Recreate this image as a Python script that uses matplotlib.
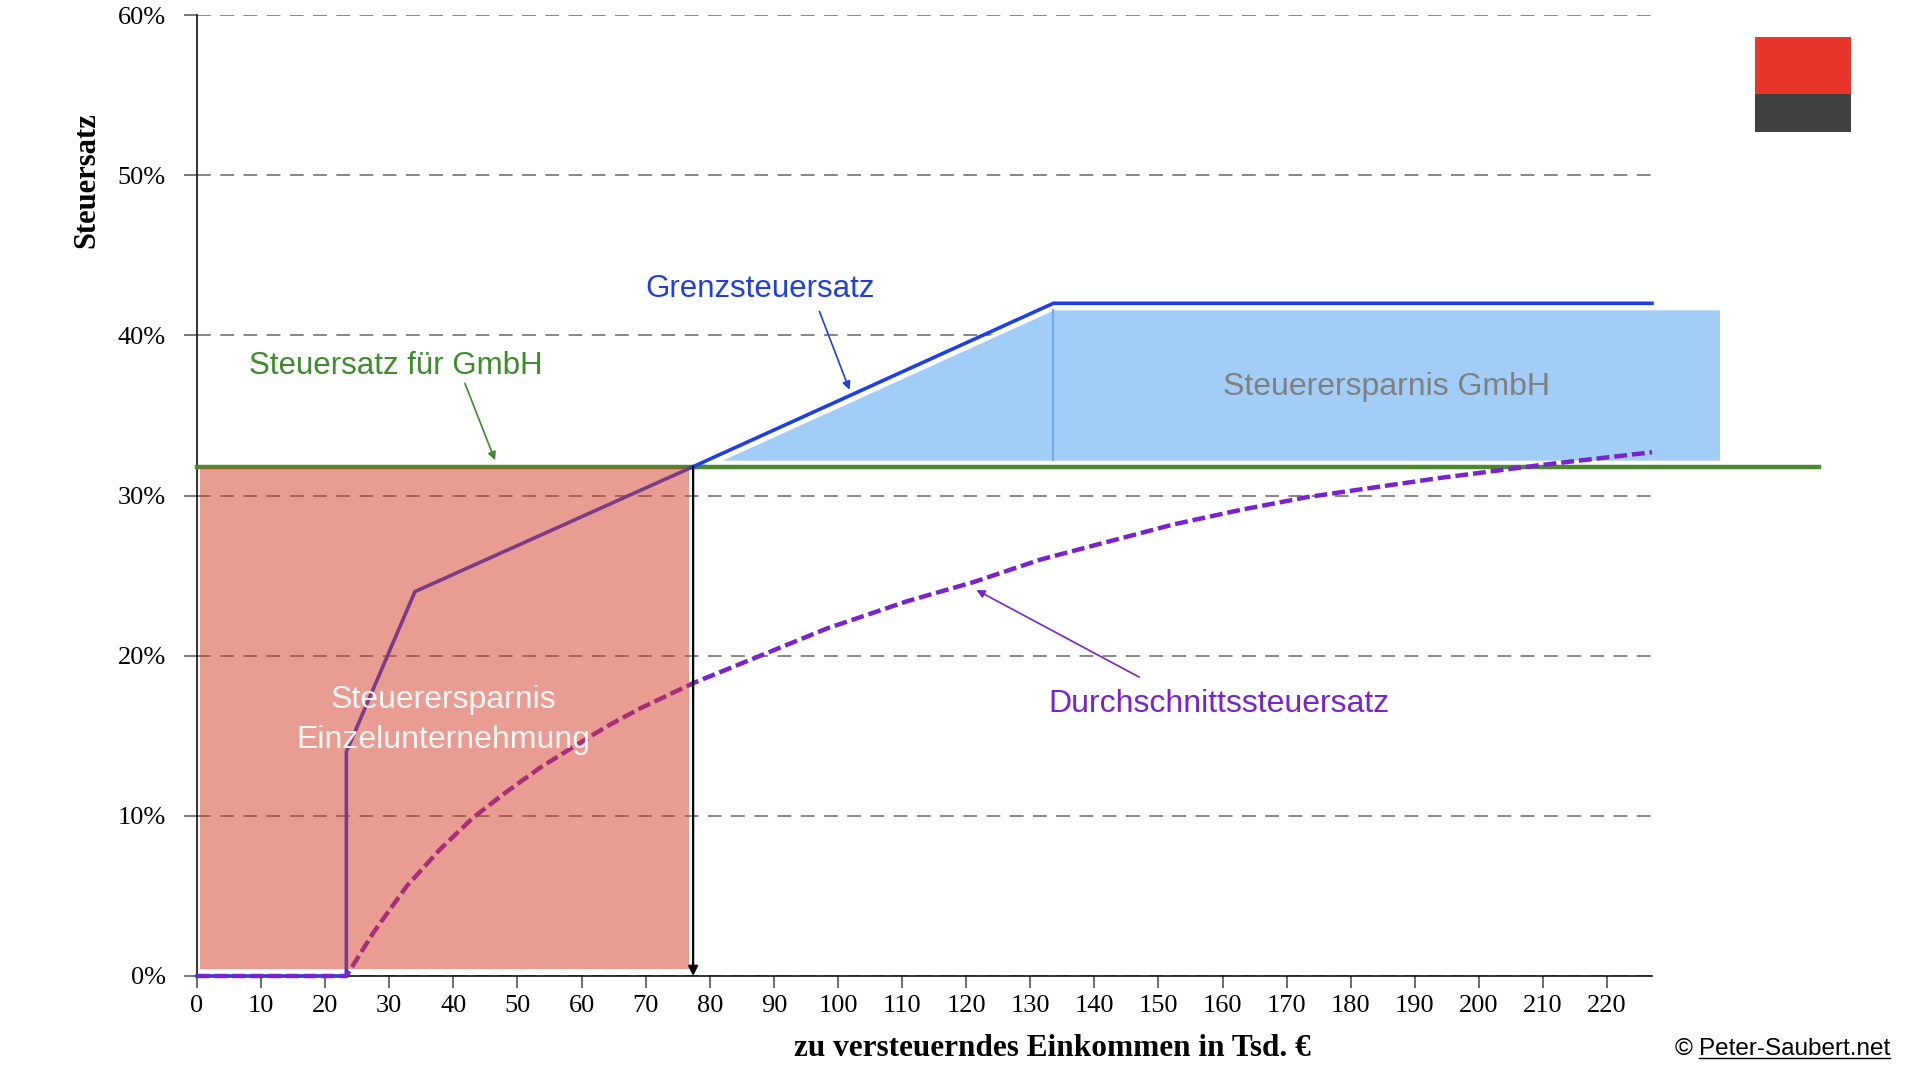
import matplotlib
matplotlib.use('Agg')
import matplotlib.pyplot as plt
from matplotlib.patches import Rectangle
from matplotlib.lines import Line2D

# Grenzsteuersatz Einzelunternehmen (Einkommen in Tsd. EUR, Satz in %)
marginal_x = [0, 23.3, 23.3, 34.0, 77.4, 133.6, 227.0]
marginal_y = [0, 0, 14.0, 24.0, 31.8, 42.0, 42.0]

# Durchschnittssteuersatz
avg_x = [0, 23.3, 27.5, 32.7, 37.9, 43.1, 48.3, 53.5, 58.7, 64.0, 69.1,
         77.5, 87.9, 98.3, 110.8, 121.2, 131.6, 142.0, 152.4, 162.8, 173.2,
         194.0, 209.6, 227.0]
avg_y = [0, 0, 2.7, 5.6, 7.9, 9.9, 11.5, 13.0, 14.3, 15.6, 16.7,
         18.3, 20.0, 21.7, 23.4, 24.6, 26.0, 27.1, 28.2, 29.1, 29.9,
         31.1, 31.9, 32.7]

# Steuersatz GmbH und Schnittpunkt
gmbh_rate = 31.8
gmbh_x = [0, 253]
breakeven = 77.4

# Flaechen
einzel_x = [0.4, 76.7]
einzel_y = [0.45, 31.7]
gmbh_save_x = [77.4, 133.6, 237.8]
gmbh_save_top = [31.8, 42.0, 42.0]
top_rate_start = 133.6

x_ticks = list(range(0, 230, 10))
y_ticks = [0, 10, 20, 30, 40, 50, 60]
y_tick_labels = [f'{v}%' for v in y_ticks]

BLUE = '#1f3fe6'
GREEN = '#4a8a2c'
PURPLE = '#7a22cc'
SERIF = ['Liberation Serif', 'DejaVu Serif']
SANS = ['Liberation Sans', 'DejaVu Sans']

fig = plt.figure(figsize=(19.2, 10.8), dpi=100)
ax = fig.add_axes([197 / 1920, 1 - 976 / 1080, 1455 / 1920, 961 / 1080])
ax.set_xlim(0, 227)
ax.set_ylim(0, 60)

for s in ['top', 'right']:
    ax.spines[s].set_visible(False)
for s in ['left', 'bottom']:
    ax.spines[s].set_linewidth(1.2)
    ax.spines[s].set_color('#111111')

ax.set_yticks(y_ticks)
ax.set_yticklabels(y_tick_labels, family=SERIF, fontsize=19)
ax.set_xticks(x_ticks)
ax.set_xticklabels([str(t) for t in x_ticks], family=SERIF, fontsize=19)
ax.tick_params(axis='y', length=9.5, width=1.1, color='#555555', pad=13)
ax.tick_params(axis='x', length=8.5, width=1.1, color='#444444', pad=5)

ax.yaxis.grid(True, color='#666666', linewidth=1.1, linestyle=(0, (9, 6.2)))
ax.set_axisbelow(True)

# blaue Ersparnisflaeche GmbH
ax.fill_between(gmbh_save_x, [gmbh_rate + 0.3] * 3,
                [t - 0.3 for t in gmbh_save_top],
                facecolor='#a2cdf6', edgecolor='white', linewidth=2.5,
                zorder=2, clip_on=False)
ax.plot([top_rate_start, top_rate_start], [gmbh_rate + 0.4, 41.6],
        color='#6eaef0', lw=1.5, zorder=2.5, clip_on=False)

# Linien
ax.plot(gmbh_x, [gmbh_rate, gmbh_rate], color=GREEN, lw=3.2,
        zorder=3, clip_on=False)
ax.plot(marginal_x, marginal_y, color=BLUE, lw=2.6, zorder=4,
        solid_joinstyle='miter', clip_on=False)
ax.plot(avg_x, avg_y, color=PURPLE, lw=3.2, zorder=4.5,
        dashes=(2.9, 1.1), clip_on=False)

# halbtransparente rote Flaeche Einzelunternehmen
ax.add_patch(Rectangle((einzel_x[0], einzel_y[0]),
                       einzel_x[1] - einzel_x[0], einzel_y[1] - einzel_y[0],
                       facecolor='#d53a26', alpha=0.5, edgecolor='none',
                       zorder=5))

ax.annotate('', xy=(breakeven, 0), xytext=(breakeven, gmbh_rate),
            arrowprops=dict(arrowstyle='-|>', color='black', lw=1.6,
                            mutation_scale=14, shrinkA=0, shrinkB=0),
            zorder=6)

# Beschriftungen
ax.text(87.9, 42.9, 'Grenzsteuersatz', color=BLUE, family=SANS,
        fontsize=22.5, ha='center', va='center', zorder=7)
ax.annotate('', xy=(101.8, 36.6), xytext=(97.1, 41.5),
            arrowprops=dict(arrowstyle='-|>', color=BLUE, lw=1.2,
                            mutation_scale=12, shrinkA=0, shrinkB=0),
            zorder=7)

ax.text(31.0, 38.1, 'Steuersatz für GmbH', color='#3d8b2b', family=SANS,
        fontsize=22.5, ha='center', va='center', zorder=7)
ax.annotate('', xy=(46.5, 32.2), xytext=(41.8, 37.0),
            arrowprops=dict(arrowstyle='-|>', color='#3d8b2b', lw=1.2,
                            mutation_scale=12, shrinkA=0, shrinkB=0),
            zorder=7)

ax.text(185.6, 36.8, 'Steuerersparnis GmbH', color='#808080', family=SANS,
        fontsize=23, ha='center', va='center', zorder=7, clip_on=False)

ax.text(38.4, 16.0, 'Steuerersparnis\nEinzelunternehmung', color='white',
        family=SANS, fontsize=23, ha='center', va='center',
        linespacing=1.45, alpha=0.92, zorder=7)

ax.text(159.4, 17.0, 'Durchschnittssteuersatz', color=PURPLE, family=SANS,
        fontsize=23, ha='center', va='center', zorder=7)
ax.annotate('', xy=(121.6, 24.1), xytext=(147.0, 18.66),
            arrowprops=dict(arrowstyle='-|>', color=PURPLE, lw=1.2,
                            mutation_scale=12, shrinkA=0, shrinkB=0),
            zorder=7)

ax.set_xlabel('zu versteuerndes Einkommen in Tsd. €', family=SERIF,
              fontsize=22.5, fontweight='bold')
ax.xaxis.set_label_coords(0.588, -0.060)
ax.set_ylabel('Steuersatz', family=SERIF, fontsize=22, fontweight='bold')
ax.yaxis.set_label_coords(-0.066, 0.828)

# Logo
fig.patches.append(Rectangle((1755 / 1920, 1 - 94 / 1080), 96 / 1920,
                             57 / 1080, transform=fig.transFigure,
                             facecolor='#e8352a', edgecolor='none'))
fig.patches.append(Rectangle((1755 / 1920, 1 - 132 / 1080), 96 / 1920,
                             38 / 1080, transform=fig.transFigure,
                             facecolor='#404040', edgecolor='none'))

# Copyright mit unterstrichenem Link
fig.text(1675 / 1920, 1 - 1049 / 1080, '©', family=SANS, fontsize=17.5,
         ha='left', va='center')
link = fig.text(1699 / 1920, 1 - 1049 / 1080, 'Peter-Saubert.net',
                family=SANS, fontsize=17.5, ha='left', va='center')
fig.canvas.draw()
bb = link.get_window_extent().transformed(fig.transFigure.inverted())
fig.add_artist(Line2D([bb.x0, bb.x1], [bb.y0 + 0.002, bb.y0 + 0.002],
                      transform=fig.transFigure, color='black', lw=1.0))

fig.savefig('out.png', dpi=100)
